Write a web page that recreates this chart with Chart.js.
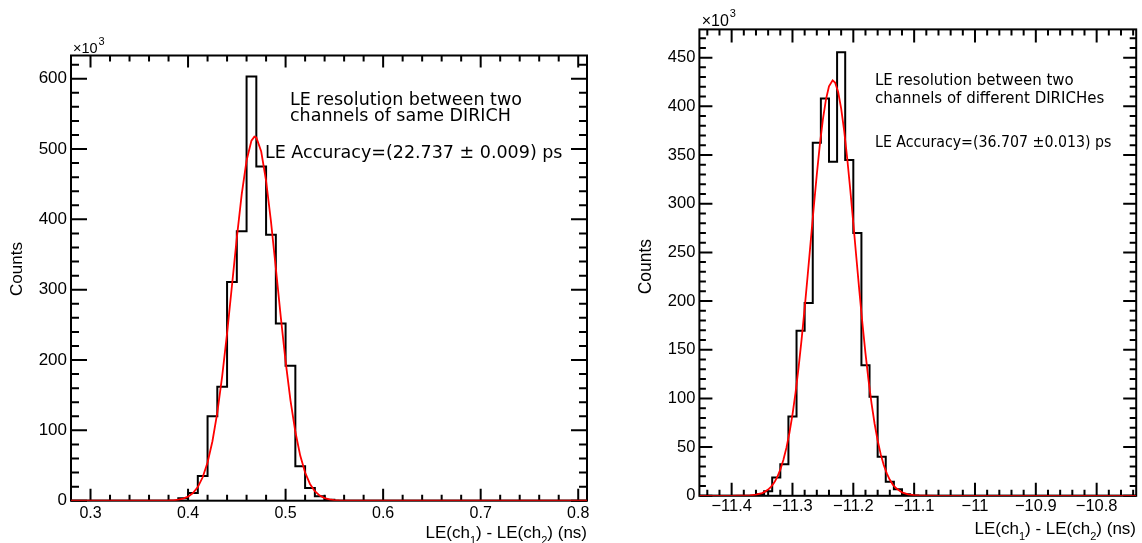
<!DOCTYPE html>
<html>
<head>
<meta charset="utf-8">
<script src="https://cdn.jsdelivr.net/npm/chart.js@4/dist/chart.umd.min.js"></script>
<style>
  html, body { margin: 0; padding: 0; background: #fff; }
  #page { position: relative; width: 1142px; height: 543px; overflow: hidden; }
  canvas { position: absolute; top: 0; }
</style>
</head>
<body>
<div id="page">
  <canvas id="sameChart" width="600" height="543" style="left:0"></canvas>
  <canvas id="diffChart" width="542" height="543" style="left:600px"></canvas>
</div>
<script>
// counts are in units of 10^3

// two channels of the same DIRICH, 0.01 ns bins
const sameBinStart = 0.39;
const sameBinWidth = 0.01;
const sameCounts = [3.5, 11, 35, 120, 162, 311, 383, 603, 475, 378, 252, 192, 49, 18, 6.5, 1.2];
const sameFit = [
  [0.28, 0], [0.36, 0], [0.37, 0.05], [0.38, 0.3], [0.385, 0.6], [0.39, 1.4], [0.395, 2.9],
  [0.40, 5.8], [0.405, 10.8], [0.41, 19.4], [0.415, 33.3], [0.42, 54.4], [0.425, 84.5],
  [0.43, 125.3], [0.435, 177], [0.44, 238], [0.445, 305.6], [0.45, 373.7], [0.455, 435.6],
  [0.46, 483.7], [0.465, 512], [0.468, 517.6], [0.47, 516.4], [0.475, 496.5], [0.48, 454.9],
  [0.485, 397.2], [0.49, 330.5], [0.495, 262.2], [0.50, 198.1], [0.505, 142.7], [0.51, 98],
  [0.515, 64.1], [0.52, 40], [0.525, 23.8], [0.53, 13.5], [0.535, 7.3], [0.54, 3.7],
  [0.545, 1.8], [0.55, 0.85], [0.555, 0.4], [0.56, 0.15], [0.57, 0], [0.809, 0]
];
const sameXTicks = [0.3, 0.4, 0.5, 0.6, 0.7, 0.8];
const sameXLabels = ['0.3', '0.4', '0.5', '0.6', '0.7', '0.8'];
const sameYTicks = [0, 100, 200, 300, 400, 500, 600];
const sameYLabels = ['0', '100', '200', '300', '400', '500', '600'];

// two channels of different DIRICHes, 0.0133 ns bins
const diffBinStart = -11.36;
const diffBinWidth = 0.04 / 3;
const diffCounts = [1.5, 4.8, 18.8, 32.5, 81.5, 169.5, 198, 362.5, 408, 343, 455.5, 345, 270, 134, 101.7, 40, 14.4, 6.8, 1.7, 0.4];
const diffFit = [
  [-11.453, 0], [-11.40, 0], [-11.39, 0.05], [-11.38, 0.15], [-11.37, 0.4], [-11.36, 1.1],
  [-11.35, 2.8], [-11.345, 4.3], [-11.34, 6.4], [-11.335, 9.5], [-11.33, 13.6], [-11.325, 19.3],
  [-11.32, 26.9], [-11.315, 36.7], [-11.31, 49.2], [-11.305, 64.6], [-11.30, 83.4],
  [-11.295, 105.7], [-11.29, 131.6], [-11.285, 160.6], [-11.28, 192.5], [-11.275, 226.5],
  [-11.27, 261.6], [-11.265, 296.6], [-11.26, 330], [-11.255, 360.6], [-11.25, 386.6],
  [-11.245, 406.9], [-11.24, 420.5], [-11.234, 426.7], [-11.23, 424.5], [-11.225, 414.9],
  [-11.22, 398], [-11.215, 374.8], [-11.21, 346.4], [-11.205, 314.3], [-11.20, 279.9],
  [-11.195, 244.7], [-11.19, 210], [-11.185, 176.9], [-11.18, 146.3], [-11.175, 118.7],
  [-11.17, 94.6], [-11.165, 74], [-11.16, 56.8], [-11.155, 42.8], [-11.15, 31.7],
  [-11.145, 23], [-11.14, 16.4], [-11.135, 11.5], [-11.13, 7.9], [-11.12, 3.5], [-11.11, 1.5],
  [-11.10, 0.6], [-11.09, 0.2], [-11.08, 0.07], [-11.06, 0], [-10.735, 0]
];
const diffXTicks = [-11.4, -11.3, -11.2, -11.1, -11, -10.9, -10.8];
const diffXLabels = ['\u221211.4', '\u221211.3', '\u221211.2', '\u221211.1', '\u221211', '\u221210.9', '\u221210.8'];
const diffYTicks = [0, 50, 100, 150, 200, 250, 300, 350, 400, 450];
const diffYLabels = ['0', '50', '100', '150', '200', '250', '300', '350', '400', '450'];

const SANS = "'Liberation Sans', Arial, sans-serif";
const DEJAVU = "'DejaVu Sans', sans-serif";

// histogram outline: left edges of the bins, closed down to zero on both sides
function histPoints(start, width, counts, lo, hi) {
  const pts = [{ x: lo, y: 0 }];
  counts.forEach((c, i) => pts.push({ x: start + i * width, y: c }));
  pts.push({ x: start + counts.length * width, y: 0 });
  pts.push({ x: hi, y: 0 });
  return pts;
}

function stepValues(from, to, step) {
  const out = [];
  for (let v = from; v <= to + 1e-9; v += step) out.push(v);
  return out;
}

// frame with inward ticks on all four sides, plus the text
function rootDecor(cfg) {
  return {
    id: 'rootDecor',
    beforeDatasetsDraw(chart) {
      const { ctx, chartArea: a, scales: { x, y } } = chart;
      ctx.save();
      ctx.strokeStyle = '#000';
      ctx.lineWidth = 2;
      ctx.beginPath();
      const xt = (vals, len) => vals.forEach(v => {
        const p = x.getPixelForValue(v);
        ctx.moveTo(p, a.bottom); ctx.lineTo(p, a.bottom - len);
        ctx.moveTo(p, a.top); ctx.lineTo(p, a.top + len);
      });
      const yt = (vals, len) => vals.forEach(v => {
        const p = y.getPixelForValue(v);
        ctx.moveTo(a.left, p); ctx.lineTo(a.left + len, p);
        ctx.moveTo(a.right, p); ctx.lineTo(a.right - len, p);
      });
      xt(cfg.xMinor, cfg.xTickLen[1]);
      xt(cfg.xTicks, cfg.xTickLen[0]);
      yt(cfg.yMinor, cfg.yTickLen[1]);
      yt(cfg.yTicks, cfg.yTickLen[0]);
      ctx.stroke();
      ctx.strokeRect(a.left, a.top, a.right - a.left, a.bottom - a.top);
      ctx.restore();
    },
    afterDraw(chart) {
      const ctx = chart.ctx;
      ctx.save();
      ctx.fillStyle = '#000';
      ctx.textBaseline = 'alphabetic';

      // pave text; squeeze narrows a line horizontally
      cfg.notes.forEach(n => {
        ctx.save();
        ctx.font = n.size + 'px ' + DEJAVU;
        ctx.textAlign = 'left';
        ctx.translate(n.x, n.y);
        ctx.scale(n.squeeze || 1, 1);
        ctx.fillText(n.text, 0, 0);
        ctx.restore();
      });

      // x10^3 multiplier
      const m = cfg.mult;
      ctx.font = m.size + 'px ' + SANS;
      ctx.fillText('\u00d710', m.x, m.y);
      const mw = ctx.measureText('\u00d710').width;
      ctx.font = m.supSize + 'px ' + SANS;
      ctx.fillText('3', m.x + mw + 1, m.y - m.supRise);

      // y title
      ctx.save();
      ctx.translate(cfg.yTitle.x, cfg.yTitle.y);
      ctx.rotate(-Math.PI / 2);
      ctx.font = cfg.yTitle.size + 'px ' + SANS;
      ctx.textAlign = 'center';
      ctx.textBaseline = 'middle';
      ctx.fillText('Counts', 0, 0);
      ctx.restore();

      // x title with subscripts, right aligned to the frame
      const parts = [['LE(ch', 0], ['1', 1], [') - LE(ch', 0], ['2', 1], [') (ns)', 0]];
      const t = cfg.xTitle;
      const fontFor = sub => (sub ? t.subSize : t.size) + 'px ' + SANS;
      let total = 0;
      parts.forEach(([s, sub]) => { ctx.font = fontFor(sub); total += ctx.measureText(s).width; });
      let cx = t.right - total;
      ctx.textAlign = 'left';
      parts.forEach(([s, sub]) => {
        ctx.font = fontFor(sub);
        ctx.fillText(s, cx, t.y + (sub ? t.subDrop : 0));
        cx += ctx.measureText(s).width;
      });
      ctx.restore();
    }
  };
}

function makeChart(id, cfg) {
  new Chart(document.getElementById(id), {
    type: 'line',
    data: {
      datasets: [
        {
          data: cfg.fit.map(([x, y]) => ({ x, y })),
          borderColor: '#ff0000',
          borderWidth: 1.8,
          pointRadius: 0,
          tension: 0,
          order: 0
        },
        {
          data: histPoints(cfg.binStart, cfg.binWidth, cfg.counts, cfg.xMin, cfg.xMax),
          borderColor: '#000000',
          borderWidth: 2,
          pointRadius: 0,
          stepped: true,
          order: 1
        }
      ]
    },
    options: {
      responsive: false,
      animation: false,
      events: [],
      layout: { padding: cfg.padding },
      plugins: { legend: { display: false }, tooltip: { enabled: false } },
      scales: {
        x: {
          type: 'linear',
          min: cfg.xMin,
          max: cfg.xMax,
          afterBuildTicks: s => { s.ticks = cfg.xTicks.map(v => ({ value: v })); },
          afterFit: s => { s.height = cfg.xAxisHeight; },
          grid: { display: false, drawTicks: false },
          border: { display: false },
          ticks: {
            autoSkip: false,
            maxRotation: 0,
            padding: cfg.xLabelPad,
            color: '#000',
            font: { family: SANS, size: cfg.xLabelSize },
            callback: (v, i) => cfg.xLabels[i]
          }
        },
        y: {
          type: 'linear',
          min: 0,
          max: cfg.yMax,
          afterBuildTicks: s => { s.ticks = cfg.yTicks.map(v => ({ value: v })); },
          afterFit: s => { s.width = cfg.yAxisWidth; },
          grid: { display: false, drawTicks: false },
          border: { display: false },
          ticks: {
            autoSkip: false,
            padding: 4,
            color: '#000',
            font: { family: SANS, size: cfg.yLabelSize },
            callback: (v, i) => cfg.yLabels[i]
          }
        }
      }
    },
    plugins: [rootDecor(cfg)]
  });
}

makeChart('sameChart', {
  binStart: sameBinStart, binWidth: sameBinWidth, counts: sameCounts, fit: sameFit,
  xMin: 0.28, xMax: 0.809, yMax: 633,
  xTicks: sameXTicks, xLabels: sameXLabels, yTicks: sameYTicks, yLabels: sameYLabels,
  xMinor: stepValues(0.28, 0.809, 0.02), yMinor: stepValues(0, 633, 20),
  xTickLen: [12, 6], yTickLen: [16, 8],
  padding: { top: 55.5, right: 13, left: 0, bottom: 0 },
  xAxisHeight: 42.3, yAxisWidth: 71,
  xLabelPad: 3, xLabelSize: 16, yLabelSize: 17,
  notes: [
    { text: 'LE resolution between two', x: 290, y: 105, size: 17.5 },
    { text: 'channels of same DIRICH', x: 290, y: 120.7, size: 17.5 },
    { text: 'LE Accuracy=(22.737 \u00b1 0.009) ps', x: 265, y: 158.3, size: 17.5 }
  ],
  mult: { x: 73, y: 53, size: 14.5, supSize: 11, supRise: 8 },
  yTitle: { x: 17, y: 269, size: 17 },
  xTitle: { right: 587, y: 537.5, size: 17, subSize: 11, subDrop: 6 }
});

makeChart('diffChart', {
  binStart: diffBinStart, binWidth: diffBinWidth, counts: diffCounts, fit: diffFit,
  xMin: -11.453, xMax: -10.735, yMax: 479,
  xTicks: diffXTicks, xLabels: diffXLabels, yTicks: diffYTicks, yLabels: diffYLabels,
  xMinor: stepValues(-11.44, -10.735, 0.02), yMinor: stepValues(0, 479, 10),
  xTickLen: [13, 6], yTickLen: [13, 6.5],
  padding: { top: 29.4, right: 5.8, left: 0, bottom: 0 },
  xAxisHeight: 47.2, yAxisWidth: 99.4,
  xLabelPad: 1, xLabelSize: 16.5, yLabelSize: 16.5,
  notes: [
    { text: 'LE resolution between two', x: 275, y: 85, size: 15 },
    { text: 'channels of different DIRICHes', x: 275, y: 102.7, size: 15 },
    { text: 'LE Accuracy=(36.707 \u00b10.013) ps', x: 275, y: 146.7, size: 15, squeeze: 0.945 }
  ],
  mult: { x: 101.7, y: 26, size: 16, supSize: 11, supRise: 9 },
  yTitle: { x: 45.7, y: 266.6, size: 17.5 },
  xTitle: { right: 536, y: 533.5, size: 17, subSize: 11, subDrop: 6 }
});
</script>
</body>
</html>
